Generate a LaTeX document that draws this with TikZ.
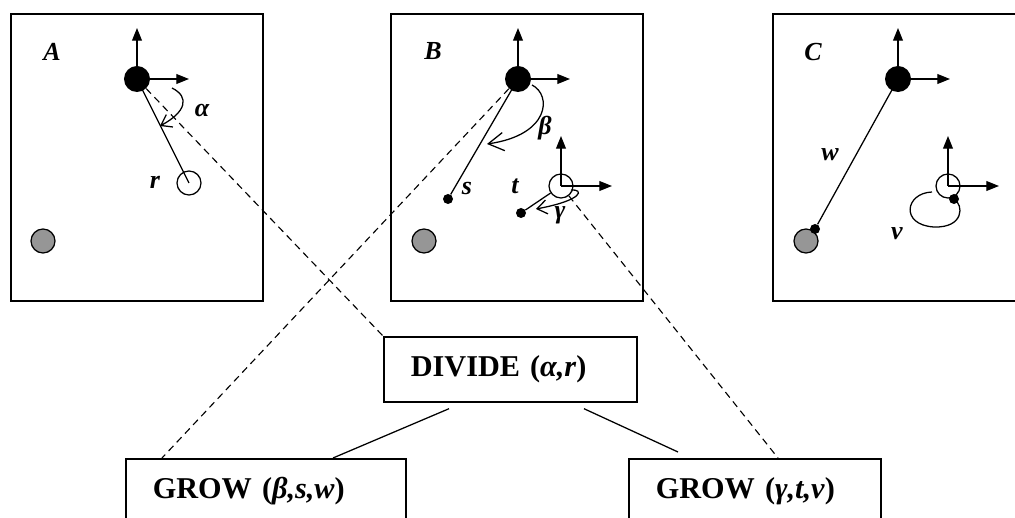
\documentclass[tikz,border=0pt]{standalone}
\usepackage{fontspec}
\setmainfont{Liberation Serif}
\usepackage{tikz}
\usetikzlibrary{arrows.meta, calc, positioning}
\definecolor{discgray}{RGB}{150, 150, 150}

\begin{document}
\begin{tikzpicture}[
    x=0.025cm, y=-0.025cm,
    every node/.style={font=\fontsize{18.5}{20}\selectfont\bfseries\itshape},
    panel/.style={rectangle, draw, line width=1.2pt, anchor=north west, minimum width=6.3cm, minimum height=7.175cm, inner sep=0pt},
    opbox/.style={rectangle, draw, line width=1.2pt, anchor=north west, minimum height=1.625cm, inner xsep=0.675cm, inner ysep=0pt, align=left, font=\fontsize{21.5}{24}\selectfont\bfseries},
    bigdisc/.style={circle, fill=black, minimum size=0.65cm, inner sep=0pt},
    ring/.style={circle, draw, fill=white, line width=0.9pt, minimum size=0.6cm, inner sep=0pt},
    greydisc/.style={circle, draw, fill=discgray, line width=0.9pt, minimum size=0.6cm, inner sep=0pt},
    dot/.style={circle, fill=black, minimum size=0.25cm, inner sep=0pt},
    axis/.style={line width=0.9pt, -{Triangle[length=9pt, width=7pt]}},
    turn/.style={line width=0.9pt, -{Straight Barb[length=7pt, width=10pt]}},
    link/.style={line width=0.9pt},
    trace/.style={line width=0.8pt, dash pattern=on 5pt off 3.5pt}
]
\useasboundingbox (0,0) rectangle (1015,518);
\clip (0,0) rectangle (1015,518);

% Panel A: before the split
\node[panel] (pA) at (10,13) {};
\node (lA) at (52,52) {A};
\node[greydisc] (gA) at (43,241) {};
\node[ring] (rA) at (189,183) {};
\draw[axis] (137,79) -- ++(0,-51);
\draw[axis] (137,79) -- ++(52,0);
\node[bigdisc] (dA) at (137,79) {};
\draw[link] (dA.center) -- (rA.center);
\draw[turn] (172,88) .. controls (190,97) and (186,112) .. (160,126);
\node (alA) at (202,110) {α};
\node (lr) at (155,182) {r};

% Panel B: after DIVIDE
\node[panel] (pB) at (390,13) {};
\node (lB) at (433,51) {B};
\node[greydisc] (gB) at (424,241) {};
\draw[axis] (518,79) -- ++(0,-51);
\draw[axis] (518,79) -- ++(52,0);
\node[bigdisc] (dB) at (518,79) {};
\node[dot] (sB) at (448,199) {};
\draw[link] (dB.center) -- (sB);
\draw[turn, -{Straight Barb[length=11pt, width=13pt]}] (532,85) .. controls (552,95) and (550,135) .. (487,144);
\node (beB) at (545,128) {β};
\node (ls) at (467,188) {s};
\node[ring] (tB) at (561,186) {};
\draw[axis] (tB.center) -- ++(0,-50);
\draw[axis] (tB.center) -- ++(51,0);
\node[dot] (tdot) at (521,213) {};
\draw[link] (tdot) -- (tB);
\draw[turn] (571,190) .. controls (584,189) and (584,200) .. (536,209);
\node (lt) at (515,186) {t};
\node (gaB) at (560,215) {γ};

% Panel C: after both GROW steps
\node[panel] (pC) at (772,13) {};
\node (lC) at (813,52) {C};
\node[greydisc] (gC) at (806,241) {};
\draw[axis] (898,79) -- ++(0,-51);
\draw[axis] (898,79) -- ++(52,0);
\node[bigdisc] (dC) at (898,79) {};
\node[dot] (wdot) at (815,229) {};
\draw[link] (dC.center) -- (wdot);
\node (lw) at (830,155) {w};
\node[ring] (vC) at (948,186) {};
\draw[axis] (vC.center) -- ++(0,-50);
\draw[axis] (vC.center) -- ++(51,0);
\draw[link] (932,192) .. controls (905,193) and (900,225) .. (934,227) .. controls (964,228) and (964,205) .. (954,199);
\node[dot] (vdot) at (954,199) {};
\node (lv) at (897,234) {v};

% Operation tree
\node[opbox, text width=4.975cm] (dv) at (383,336) {DIVIDE (\textit{α,r})};
\node[opbox, text width=5.65cm] (g1) at (125,458) {GROW (\textit{β,s,w})};
\node[opbox, text width=4.95cm] (g2) at (628,458) {GROW (\textit{γ,t,v})};

\draw[link] ($(dv.south west)+(66,6)$) -- ($(g1.north west)+(208,0)$);
\draw[link] ($(dv.south west)+(201,6)$) -- ($(g2.north west)+(50,-6)$);

\draw[trace] (dA) -- (dv.north west);
\draw[trace] (dB) -- ($(g1.north west)+(37,0)$);
\draw[trace] (tB) -- ($(g2.north west)+(150,0)$);

\end{tikzpicture}
\end{document}
